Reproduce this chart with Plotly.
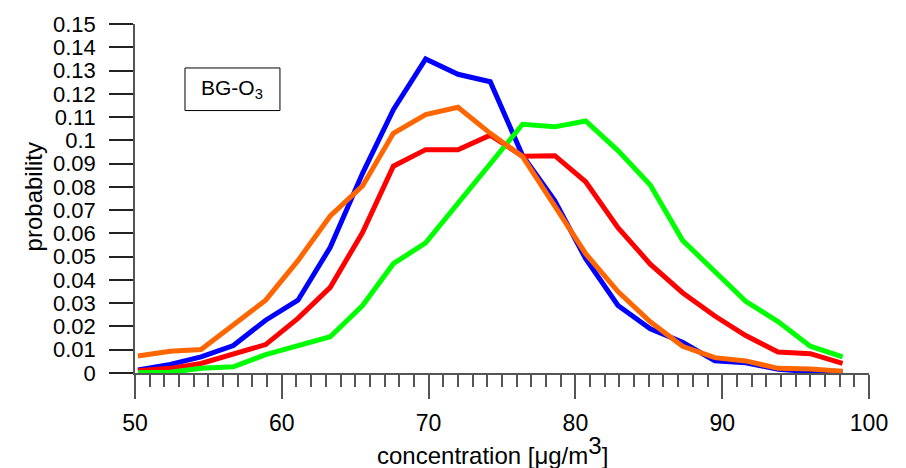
import plotly.graph_objects as go

# Bin centres of the concentration histogram [µg/m3]
concentration = [50.2, 52.4, 54.5, 56.7, 58.9, 61.1, 63.3, 65.5, 67.6, 69.8, 72.0, 74.2,
                 76.4, 78.6, 80.7, 82.9, 85.1, 87.3, 89.5, 91.6, 93.8, 96.0, 98.2]

# Probability of each bin, one series per curve
prob_blue = [0.0013, 0.0037, 0.0069, 0.0118, 0.0227, 0.0313, 0.0540, 0.0858, 0.1132, 0.1350,
             0.1284, 0.1252, 0.0935, 0.0740, 0.0491, 0.0290, 0.0190, 0.0132, 0.0052, 0.0044,
             0.0016, 0.0006, 0.0006]
prob_red = [0.0010, 0.0020, 0.0041, 0.0083, 0.0122, 0.0235, 0.0368, 0.0604, 0.0889, 0.0960,
            0.0959, 0.1022, 0.0932, 0.0934, 0.0822, 0.0625, 0.0468, 0.0345, 0.0245, 0.0161,
            0.0090, 0.0083, 0.0041]
prob_green = [0.0001, 0.0003, 0.0020, 0.0027, 0.0079, 0.0115, 0.0156, 0.0290, 0.0470, 0.0559,
              0.0731, 0.0903, 0.1069, 0.1058, 0.1083, 0.0956, 0.0808, 0.0570, 0.0435, 0.0308,
              0.0221, 0.0115, 0.0069]
prob_orange = [0.0073, 0.0093, 0.0101, 0.0210, 0.0313, 0.0483, 0.0675, 0.0804, 0.1030, 0.1111,
               0.1142, 0.1030, 0.0930, 0.0717, 0.0513, 0.0350, 0.0220, 0.0115, 0.0066, 0.0052,
               0.0020, 0.0017, 0.0008]

# Axis ticks
y_tickvals = [0, 0.01, 0.02, 0.03, 0.04, 0.05, 0.06, 0.07, 0.08, 0.09, 0.10, 0.11, 0.12, 0.13, 0.14, 0.15]
y_ticktext = ["0", "0.01", "0.02", "0.03", "0.04", "0.05", "0.06", "0.07", "0.08", "0.09",
              "0.1", "0.11", "0.12", "0.13", "0.14", "0.15"]
x_tickvals = [50, 60, 70, 80, 90, 100]
x_ticktext = ["50", "60", "70", "80", "90", "100"]

series = [
    (prob_blue, "#0000FF"),
    (prob_red, "#FF0000"),
    (prob_green, "#00FF00"),
    (prob_orange, "#FF6600"),
]

fig = go.Figure()
for values, color in series:
    fig.add_trace(go.Scatter(
        x=concentration, y=values, mode="lines",
        line=dict(color=color, width=5), showlegend=False, hoverinfo="skip",
    ))

FONT = "Liberation Sans, Arial, sans-serif"
AXIS_COLOR = "#555555"

fig.update_layout(
    width=906, height=468,
    margin=dict(l=135, r=37, t=18, b=95),
    paper_bgcolor="white", plot_bgcolor="white",
    font=dict(family=FONT, size=23, color="black"),
    xaxis=dict(
        range=[50, 100], showgrid=False, zeroline=False,
        showline=True, linecolor=AXIS_COLOR, linewidth=1.5,
        tickmode="array", tickvals=x_tickvals, ticktext=x_ticktext,
        tickfont=dict(size=23),
        ticks="outside", ticklen=24, tickwidth=1.5, tickcolor=AXIS_COLOR,
        ticklabelstandoff=5,
        minor=dict(dtick=1, ticks="outside", ticklen=12, tickwidth=1.5, tickcolor=AXIS_COLOR, showgrid=False),
    ),
    yaxis=dict(
        range=[0, 0.15], showgrid=False, zeroline=False,
        showline=True, linecolor=AXIS_COLOR, linewidth=1.5,
        tickmode="array", tickvals=y_tickvals, ticktext=y_ticktext,
        tickfont=dict(size=22),
        ticks="outside", ticklen=24, tickwidth=1.5, tickcolor="#222222",
        ticklabelstandoff=9,
    ),
)

# Axis titles
fig.add_annotation(xref="paper", yref="paper", x=0.487, y=-0.222,
                   text='concentration [\u03bcg/m<sup><span style="font-size:24px">3</span></sup>]',
                   showarrow=False, xanchor="center", yanchor="middle",
                   font=dict(family=FONT, size=24, color="black"))
fig.add_annotation(xref="paper", yref="paper", x=-0.139, y=0.506,
                   text="probability", textangle=-90,
                   showarrow=False, xanchor="center", yanchor="middle",
                   font=dict(family=FONT, size=24, color="black"))

# Station label box
fig.add_shape(type="rect", xref="paper", yref="paper",
              x0=0.0681, x1=0.1975, y0=0.752, y1=0.874,
              line=dict(color="black", width=1), fillcolor="white")
fig.add_annotation(xref="paper", yref="paper", x=0.1328, y=0.813,
                   text="BG-O<sub>3</sub>", showarrow=False,
                   font=dict(family=FONT, size=21, color="black"),
                   xanchor="center", yanchor="middle")

fig.write_html("out.html")
